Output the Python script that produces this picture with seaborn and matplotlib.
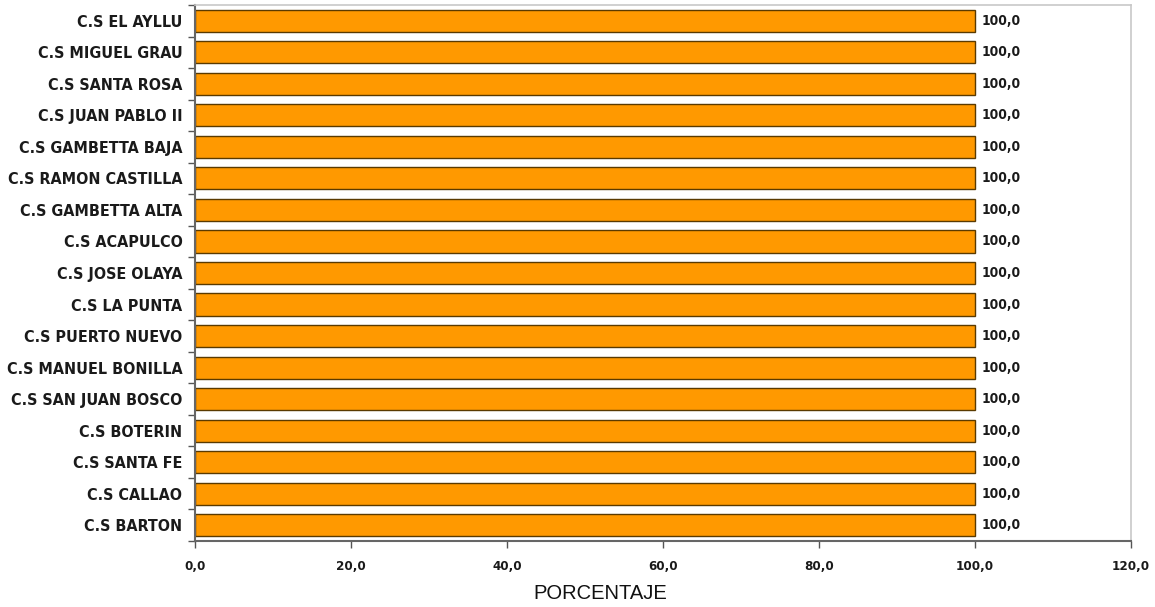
import matplotlib
matplotlib.use("Agg")
import matplotlib.pyplot as plt
from matplotlib.ticker import FixedLocator
import seaborn as sns
import pandas as pd
import numpy as np

# Health centres, top to bottom
centros = [
    "C.S EL AYLLU", "C.S MIGUEL GRAU", "C.S SANTA ROSA", "C.S JUAN PABLO II",
    "C.S GAMBETTA BAJA", "C.S RAMON CASTILLA", "C.S GAMBETTA ALTA", "C.S ACAPULCO",
    "C.S JOSE OLAYA", "C.S LA PUNTA", "C.S PUERTO NUEVO", "C.S MANUEL BONILLA",
    "C.S SAN JUAN BOSCO", "C.S BOTERIN", "C.S SANTA FE", "C.S CALLAO", "C.S BARTON",
]
porcentaje = [100.0] * 17
x_ticks = [0, 20, 40, 60, 80, 100, 120]

df = pd.DataFrame({"centro": centros, "porcentaje": porcentaje})

sns.set_theme(style="white")
plt.rcParams["font.family"] = ["DejaVu Sans"]

fig = plt.figure(figsize=(11.55, 6.07), dpi=100)
ax = fig.add_axes([0.1688, 0.1087, 0.9792 - 0.1688, 0.9918 - 0.1087])

sns.barplot(data=df, x="porcentaje", y="centro", orient="h", color="#FF9900",
            saturation=1, width=0.7, edgecolor="#5a3a00", linewidth=1.0, ax=ax)

cond = dict(fontweight="bold", fontstretch="condensed", color="#1a1a1a")

ax.set_xlim(0, 120)
ax.set_ylim(len(centros) - 0.5, -0.5)
ax.xaxis.set_major_locator(FixedLocator(x_ticks))
ax.set_xticklabels([f"{v:.1f}".replace(".", ",") for v in x_ticks], fontsize=9.5, **cond)
ax.set_yticks(range(len(centros)))
ax.set_yticklabels(centros, fontsize=11.5, **cond)
ax.yaxis.set_minor_locator(FixedLocator(np.arange(-0.5, len(centros), 1.0)))

ax.tick_params(axis="y", which="major", length=0, pad=9)
ax.tick_params(axis="y", which="minor", length=5, width=1, color="#555555", direction="out", left=True)
ax.tick_params(axis="x", which="major", length=5, width=1, color="#555555", direction="out", bottom=True, pad=9)

for side in ["left", "bottom"]:
    ax.spines[side].set_color("#666666")
    ax.spines[side].set_linewidth(1.5)
for side in ["top", "right"]:
    ax.spines[side].set_color("#c8c8c8")
    ax.spines[side].set_linewidth(1.2)

for i, v in enumerate(porcentaje):
    ax.text(v + 0.8, i, f"{v:.1f}".replace(".", ","), va="center", ha="left",
            fontsize=9.8, **cond)

ax.set_ylabel("")
ax.set_xlabel("PORCENTAJE", fontsize=14.5, family=["Liberation Sans", "DejaVu Sans"],
              color="#111111")
ax.xaxis.set_label_coords(0.433, -0.08)

fig.savefig("out.png", dpi=100)
